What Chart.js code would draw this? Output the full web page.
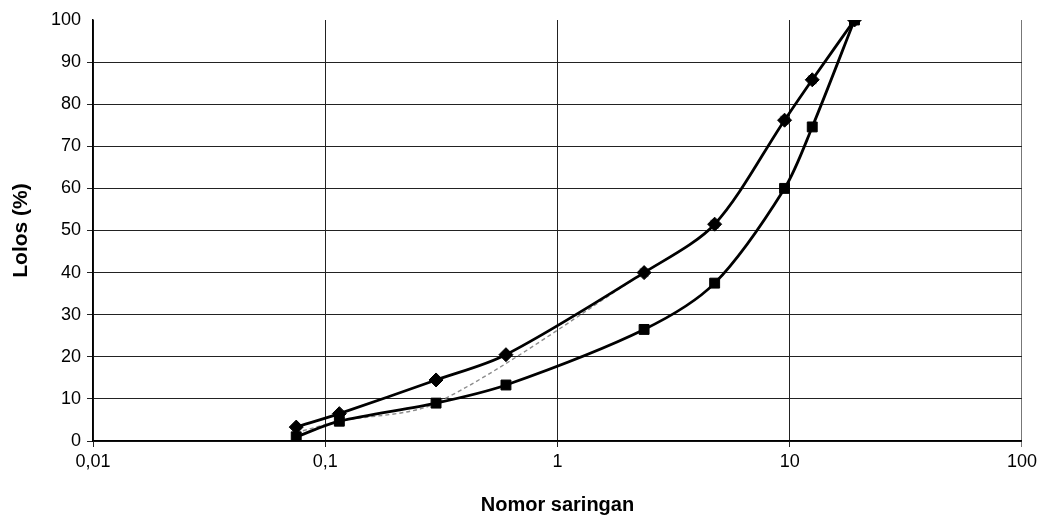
<!DOCTYPE html>
<html>
<head>
<meta charset="utf-8">
<script src="https://cdn.jsdelivr.net/npm/chart.js@4.4.1/dist/chart.umd.min.js"></script>
<style>
  html, body { margin: 0; padding: 0; background: #ffffff; }
  #wrap { width: 1041px; height: 525px; position: relative; }
</style>
</head>
<body>
<div id="wrap"><canvas id="c" width="1041" height="525"></canvas></div>
<script>
// Sieve sizes (mm) and percent passing
const sieveUpper = [0.075, 0.115, 0.3, 0.6, 2.36, 4.75, 9.5, 12.5, 19];
const passUpper  = [3.3, 6.5, 14.5, 20.5, 40, 51.5, 76.2, 85.8, 100];
const sieveLower = [0.075, 0.115, 0.3, 0.6, 2.36, 4.75, 9.5, 12.5, 19];
const passLower  = [1, 4.7, 9, 13.3, 26.5, 37.5, 60, 74.6, 100];
const sieveMid   = [0.075, 0.115, 0.3, 2.36, 4.75, 9.5, 12.5, 19];
const passMid    = [2, 4.7, 9, 40, 51.5, 76.2, 85.8, 100];
const xTickValues = [0.01, 0.1, 1, 10, 100];
const xTickLabels = ['0,01', '0,1', '1', '10', '100'];
const yTickValues = [0, 10, 20, 30, 40, 50, 60, 70, 80, 90, 100];

function pts(xs, ys) { return xs.map((x, i) => ({ x: x, y: ys[i] })); }

const ctx = document.getElementById('c').getContext('2d');
new Chart(ctx, {
  type: 'line',
  data: {
    datasets: [
      {
        label: 'Tengah',
        data: pts(sieveMid, passMid),
        borderColor: '#8c8c8c',
        borderWidth: 1.4,
        borderDash: [4, 3],
        pointStyle: 'crossRot',
        pointRadius: 6,
        pointBorderWidth: 2,
        pointBorderColor: '#a8a8a8',
        pointBackgroundColor: '#ffffff',
        tension: 0.3,
        fill: false,
        order: 3
      },
      {
        label: 'Atas',
        data: pts(sieveUpper, passUpper),
        borderColor: '#000000',
        borderWidth: 2.8,
        pointStyle: 'rectRot',
        pointRadius: 7,
        pointBorderWidth: 1,
        pointBackgroundColor: '#000000',
        pointBorderColor: '#000000',
        tension: 0.3,
        fill: false,
        order: 2
      },
      {
        label: 'Bawah',
        data: pts(sieveLower, passLower),
        borderColor: '#000000',
        borderWidth: 2.8,
        pointStyle: 'rect',
        pointRadius: 7,
        pointBorderWidth: 1,
        pointBackgroundColor: '#000000',
        pointBorderColor: '#000000',
        tension: 0.3,
        fill: false,
        order: 1
      }
    ]
  },
  options: {
    responsive: false,
    animation: false,
    layout: { padding: { top: 20, right: 17, left: 0, bottom: 0 } },
    plugins: { legend: { display: false }, tooltip: { enabled: false } },
    scales: {
      x: {
        type: 'logarithmic',
        min: 0.01,
        max: 100,
        afterBuildTicks: (scale) => { scale.ticks = xTickValues.map(v => ({ value: v })); },
        afterFit: (scale) => { scale.height = 84; },
        ticks: {
          autoSkip: false,
          maxRotation: 0,
          color: '#000',
          padding: 4,
          font: { family: '"Liberation Sans Narrow", "Liberation Sans", Arial, sans-serif', size: 18 },
          callback: (v) => { const i = xTickValues.indexOf(v); return i >= 0 ? xTickLabels[i] : ''; }
        },
        grid: {
          color: (c) => (c.tick && c.tick.value === 100) ? '#777' : '#222',
          lineWidth: 1,
          tickLength: 6,
          drawTicks: true
        },
        border: { color: '#000', width: 1.5 },
        title: {
          display: true,
          text: 'Nomor saringan',
          color: '#000',
          font: { family: '"Liberation Sans", Arial, sans-serif', size: 20, weight: 'bold' },
          padding: { top: 0, bottom: 8 }
        }
      },
      y: {
        type: 'linear',
        min: 0,
        max: 100,
        afterBuildTicks: (scale) => { scale.ticks = yTickValues.map(v => ({ value: v })); },
        afterFit: (scale) => { scale.width = 93; },
        ticks: {
          color: '#000',
          padding: 6,
          font: { family: '"Liberation Sans", Arial, sans-serif', size: 18 }
        },
        grid: {
          color: (c) => (c.tick && c.tick.value === 100) ? 'rgba(0,0,0,0)' : '#222',
          lineWidth: 1,
          tickLength: 6
        },
        border: { color: '#000', width: 1.5 },
        title: {
          display: true,
          text: 'Lolos (%)',
          color: '#000',
          font: { family: '"Liberation Sans", Arial, sans-serif', size: 21, weight: 'bold' },
          padding: { top: 9, bottom: 0 }
        }
      }
    }
  }
});
</script>
</body>
</html>
